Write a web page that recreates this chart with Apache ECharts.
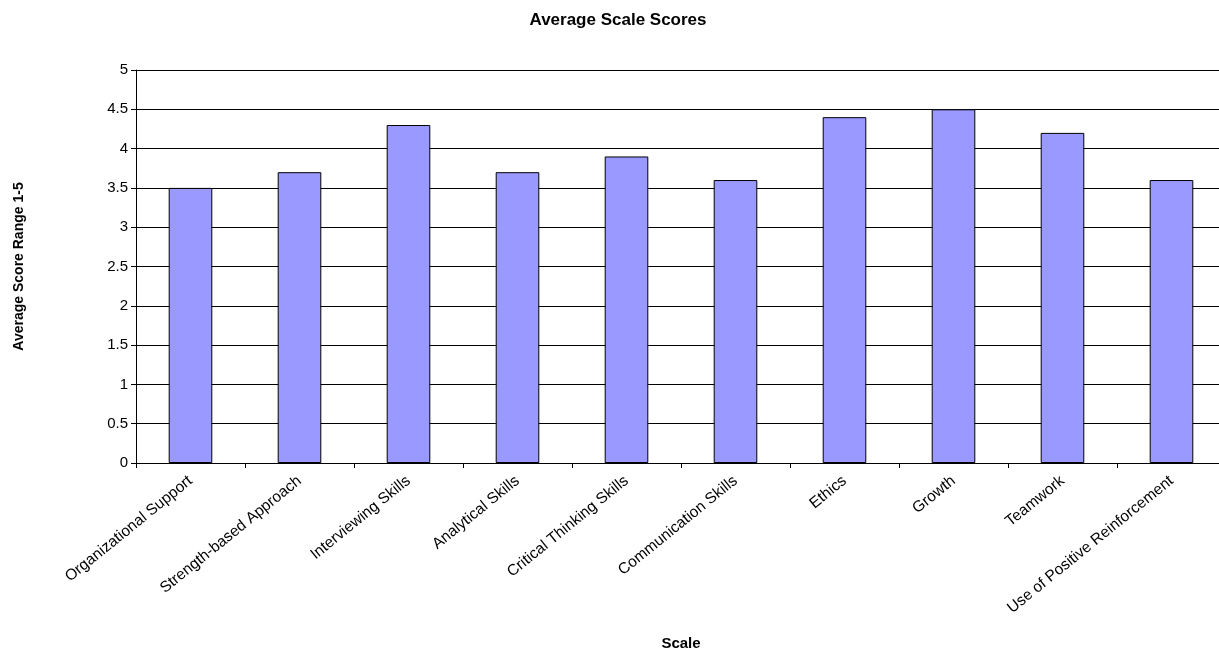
<!DOCTYPE html>
<html><head><meta charset="utf-8">
<script src="https://cdn.jsdelivr.net/npm/echarts@6/dist/echarts.min.js"></script>
<style>html,body{margin:0;padding:0;background:#fff}#c{width:1219px;height:651px}</style>
</head><body><div id="c"></div>
<script>
const categories = ["Organizational Support","Strength-based Approach","Interviewing Skills","Analytical Skills","Critical Thinking Skills","Communication Skills","Ethics","Growth","Teamwork","Use of Positive Reinforcement"];
const scores = [3.5, 3.7, 4.3, 3.7, 3.9, 3.6, 4.4, 4.5, 4.2, 3.6];
const yTicks = [0, 0.5, 1, 1.5, 2, 2.5, 3, 3.5, 4, 4.5, 5];

const chart = echarts.init(document.getElementById('c'));
chart.setOption({
  animation: false,
  title: {text: 'Average Scale Scores', left: 613, textAlign: 'center', top: 7,
    textStyle: {fontFamily: 'Liberation Sans', fontSize: 17, fontWeight: 'bold', color: '#000'}},
  grid: {left: 136, top: 70, width: 1090, height: 393, containLabel: false, outerBoundsMode: 'none'},
  xAxis: {
    type: 'category', data: categories,
    name: 'Scale', nameLocation: 'middle', nameGap: 173,
    nameTextStyle: {fontFamily: 'Liberation Sans', fontSize: 15, fontWeight: 'bold', color: '#000'},
    axisLine: {lineStyle: {color: '#000', width: 1}},
    axisTick: {show: true, length: 5, lineStyle: {color: '#000'}},
    axisLabel: {rotate: 39, interval: 0, fontFamily: 'Liberation Sans', fontSize: 15.5, color: '#000', margin: 16},
  },
  yAxis: {
    type: 'value', min: 0, max: 5, interval: 0.5,
    name: 'Average Score Range 1-5', nameLocation: 'middle', nameGap: 110, nameRotate: 90,
    nameTextStyle: {fontFamily: 'Liberation Sans', fontSize: 14, fontWeight: 'bold', color: '#000'},
    axisLine: {show: true, lineStyle: {color: '#000', width: 1}},
    axisTick: {show: true, length: 5, lineStyle: {color: '#000'}},
    axisLabel: {fontFamily: 'Liberation Sans', fontSize: 15, color: '#000', margin: 8,
      formatter: v => yTicks.includes(v) ? String(v) : ''},
    splitLine: {show: true, lineStyle: {color: '#000', width: 1}}
  },
  series: [{
    type: 'bar', data: scores, barWidth: '40%',
    itemStyle: {color: '#9999FF', borderColor: '#000', borderWidth: 1}
  }]
});
</script></body></html>
